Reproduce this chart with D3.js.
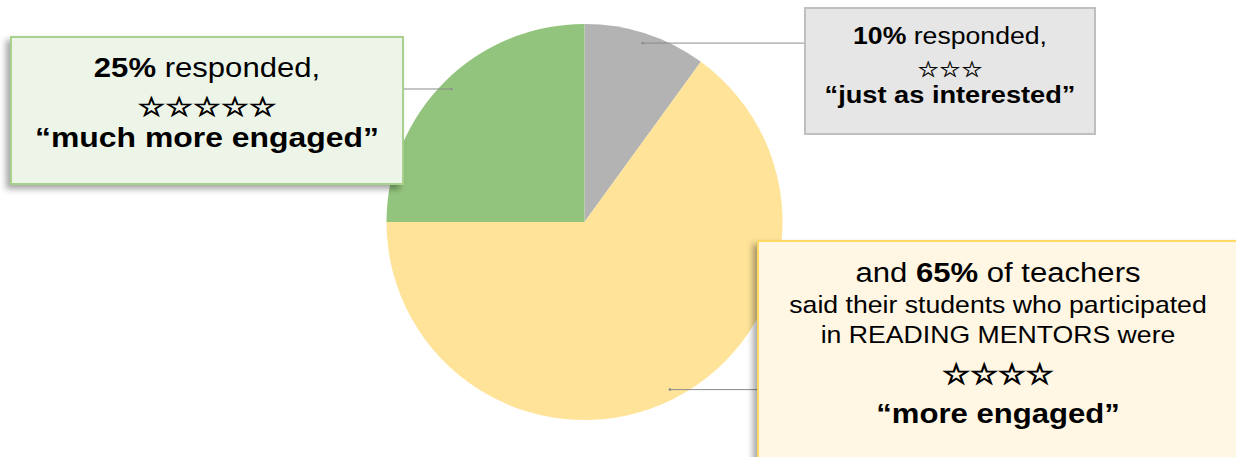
<!DOCTYPE html>
<html>
<head>
<meta charset="utf-8">
<script src="https://cdn.jsdelivr.net/npm/d3@7"></script>
<style>
  html, body { margin: 0; padding: 0; background: #ffffff; }
  svg { display: block; }
  text { font-family: "Liberation Sans", Arial, sans-serif; fill: #000; }
  .stars { font-family: "DejaVu Sans", sans-serif; stroke: #000; stroke-linejoin: miter; }
</style>
</head>
<body>
<svg id="chart" width="1236" height="457"></svg>
<script>
// Survey responses, in clockwise order starting at 12 o'clock
const categories = ["just as interested", "more engaged", "much more engaged"];
const shares     = [10, 65, 25];
const starCounts = [3, 4, 5];
const sliceColors = ["#b3b3b3", "#fee398", "#93c47d"];

const svg = d3.select("#chart");
const cx = 584.5, cy = 222, R = 198;

// Drop shadow used by the callout boxes
const defs = svg.append("defs");
const sh = defs.append("filter").attr("id", "boxShadow")
  .attr("x", "-10%").attr("y", "-10%").attr("width", "125%").attr("height", "130%");
sh.append("feDropShadow").attr("dx", -4).attr("dy", 4).attr("stdDeviation", 3)
  .attr("flood-color", "#000").attr("flood-opacity", 0.35);

// Pie
const pie = d3.pie().sort(null).value(d => d.value);
const arcs = pie(categories.map((c, i) => ({ name: c, value: shares[i], stars: starCounts[i], color: sliceColors[i] })));
const arc = d3.arc().innerRadius(0).outerRadius(R);
const anchorArc = d3.arc().innerRadius(R * 0.95).outerRadius(R * 0.95);

const g = svg.append("g").attr("transform", `translate(${cx},${cy})`);
g.selectAll("path.slice").data(arcs).join("path")
  .attr("class", "slice")
  .attr("d", arc)
  .attr("fill", d => d.data.color);

// Callout boxes: position, edge the leader line runs to, colours
const boxes = {
  "much more engaged":  { x: 11,  y: 37,  w: 392, h: 147, edge: "right", fill: "#edf5e8", stroke: "#a9d18e", shadow: true },
  "just as interested": { x: 805, y: 8,   w: 290, h: 126, edge: "left",  fill: "#e6e6e6", stroke: "#bfbfbf", shadow: false },
  "more engaged":       { x: 758, y: 241, w: 520, h: 260, edge: "left",  fill: "#fff6e3", stroke: "#ffd966", shadow: true }
};

// Leader lines from each slice to its box
arcs.forEach(d => {
  const b = boxes[d.data.name];
  const [ax, ay] = anchorArc.centroid(d);
  const x0 = cx + ax, y0 = cy + ay;
  const x1 = b.edge === "left" ? b.x : b.x + b.w;
  svg.append("line")
    .attr("x1", x0).attr("y1", y0).attr("x2", x1).attr("y2", y0)
    .attr("stroke", "#8c8c8c").attr("stroke-width", 1);
  svg.append("circle").attr("cx", x0).attr("cy", y0).attr("r", 1.3).attr("fill", "#8c8c8c");
});

// Boxes
arcs.forEach(d => {
  const b = boxes[d.data.name];
  svg.append("rect")
    .attr("x", b.x).attr("y", b.y).attr("width", b.w).attr("height", b.h)
    .attr("fill", b.fill).attr("stroke", b.stroke).attr("stroke-width", 2)
    .attr("filter", b.shadow ? "url(#boxShadow)" : null);
});

// Text helper: a centred line, slightly widened
function line(x, y, size, parts, cls, sx = 1.11) {
  const t = svg.append("g").attr("transform", `translate(${x},${y}) scale(${sx},1)`)
    .append("text").attr("text-anchor", "middle").attr("font-size", size);
  if (cls) t.attr("class", cls);
  parts.forEach(p => {
    t.append("tspan").text(p.t).attr("font-weight", p.b ? "bold" : "normal");
  });
  return t;
}
const star = n => "\u2606".repeat(n);
const byName = Object.fromEntries(arcs.map(d => [d.data.name, d.data]));

// 25% box
{
  const d = byName["much more engaged"];
  line(207, 77, 28, [{ t: d.value + "%", b: true }, { t: " responded," }]);
  line(207, 115.5, 26.5, [{ t: star(d.stars) }], "stars", 1.17).attr("stroke-width", 0.9);
  line(207, 147, 28.5, [{ t: "\u201C" + d.name + "\u201D", b: true }], null, 1.12);
}
// 10% box
{
  const d = byName["just as interested"];
  line(950, 44, 24, [{ t: d.value + "%", b: true }, { t: " responded," }]);
  line(950, 77, 22, [{ t: star(d.stars) }], "stars").attr("stroke-width", 0.35);
  line(950, 103, 24.5, [{ t: "\u201C" + d.name + "\u201D", b: true }]);
}
// 65% box
{
  const d = byName["more engaged"];
  line(998, 282, 28, [{ t: "and " }, { t: d.value + "%", b: true }, { t: " of teachers" }]);
  line(998, 313, 24, [{ t: "said their students who participated" }]);
  line(998, 343, 24, [{ t: "in READING MENTORS were" }]);
  line(998, 384, 28, [{ t: star(d.stars) }], "stars").attr("stroke-width", 1.2);
  line(998, 423, 28, [{ t: "\u201C" + d.name + "\u201D", b: true }]);
}
</script>
</body>
</html>
